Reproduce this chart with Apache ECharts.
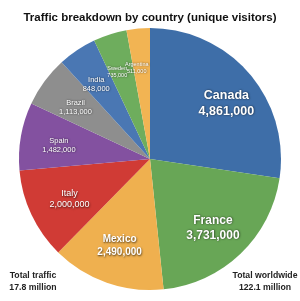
<!DOCTYPE html>
<html><head><meta charset="utf-8">
<script src="https://cdn.jsdelivr.net/npm/echarts@6/dist/echarts.min.js"></script>
<style>html,body{margin:0;padding:0;background:#fff}#c{width:300px;height:301px}</style>
</head><body><div id="c"></div>
<script>
var countries = ['Canada','France','Mexico','Italy','Spain','Brazil','India','Sweden','Argentina'];
var visitors = [4861000,3731000,2490000,2000000,1482000,1113000,848000,735000,511000];
var totalTrafficText = ['Total traffic','17.8 million'];
var totalWorldText = ['Total worldwide','122.1 million'];

var colors = ['#3e6ea8','#68a656','#efb04f','#d03b35','#8351a0','#8e8e8e','#4a77b3','#6ead5d','#f2b453'];
var labelFont = [12.5,12,10,9,7.5,7.5,7.5,5.5,5.5];
var labelBold = [true,true,true,false,false,false,false,false,false];
var labelRadiusFrac = [0.70,0.69,0.68,0.665,0.68,0.67,0.68,0.69,0.68];
var labelAngleShift = [4.7,1.4,0,-1.4,-1.6,-1.5,-2,-2.8,-3.2];

var R = 131;
var total = visitors.reduce(function(a,b){return a+b;},0);
var acc = 0;
var data = countries.map(function(n,i){
  var midDeg = (acc + visitors[i]/2)/total*360; acc += visitors[i];
  var mid = midDeg*Math.PI/180;
  var a = (midDeg + labelAngleShift[i])*Math.PI/180;
  var r = labelRadiusFrac[i]*R, r0 = 0.5*R;
  return {
    name:n, value:visitors[i], itemStyle:{color:colors[i]},
    label:{fontSize:labelFont[i], fontWeight: labelBold[i]?'bold':'normal',
      lineHeight: Math.round(labelFont[i]*1.25),
      offset:[r*Math.sin(a) - r0*Math.sin(mid), -r*Math.cos(a) + r0*Math.cos(mid)]}
  };
});

var chart = echarts.init(document.getElementById('c'), null, {renderer:'canvas'});
chart.setOption({
  animation:false,
  title:{text:'Traffic breakdown by country (unique visitors)', left:'center', top:7,
    textStyle:{fontSize:11.5, fontWeight:'bold', color:'#111', fontFamily:'Liberation Sans, Arial, sans-serif'}},
  graphic:[
    {type:'text', x:33, y:270, style:{text:totalTrafficText.join('\n'), font:'bold 8.7px "Liberation Sans", Arial, sans-serif', fill:'#222', textAlign:'center', lineHeight:12}},
    {type:'text', x:265, y:270, style:{text:totalWorldText.join('\n'), font:'bold 8.7px "Liberation Sans", Arial, sans-serif', fill:'#222', textAlign:'center', lineHeight:12}}
  ],
  series:[{
    type:'pie', center:[150,159], radius:[0,R], startAngle:90, clockwise:true,
    avoidLabelOverlap:false,
    labelLayout:{hideOverlap:false},
    data:data, labelLine:{show:false},
    itemStyle:{borderWidth:0},
    label:{show:true, position:'inside', color:'#fff', fontFamily:'Liberation Sans, Arial, sans-serif',
      textShadowColor:'rgba(0,0,0,0.7)', textShadowBlur:2, textShadowOffsetX:0.5, textShadowOffsetY:0.5,
      formatter:function(p){return p.name+'\n'+p.value.toLocaleString('en-US');}},
    emphasis:{disabled:true}
  }]
});
</script></body></html>
